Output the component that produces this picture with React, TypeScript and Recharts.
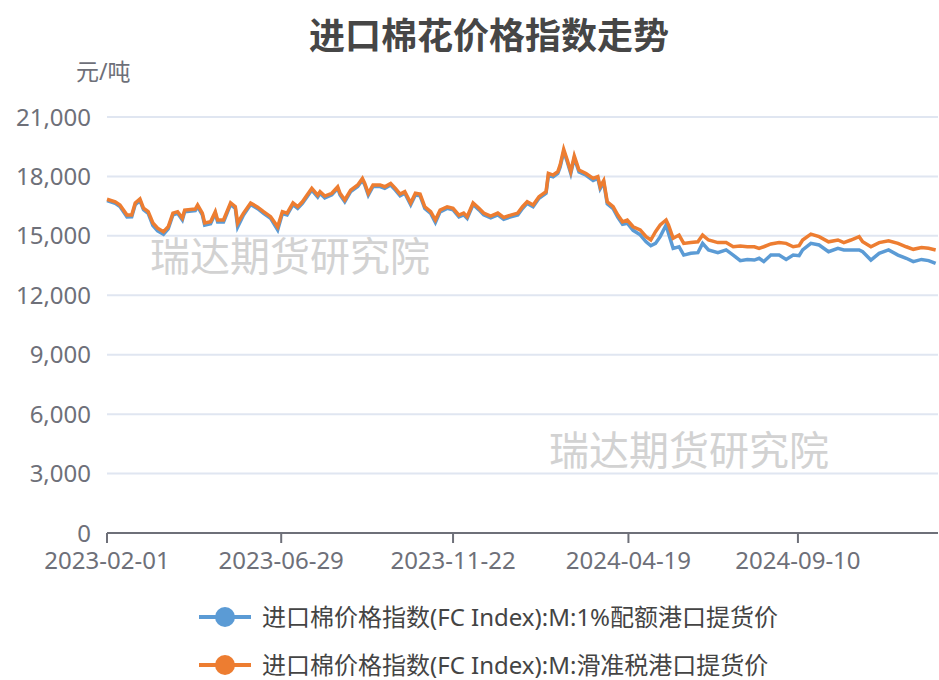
import { LineChart, Line, XAxis, YAxis, CartesianGrid } from "recharts";

// sample dates (roughly every 4-6 days)
const dates = [
  "2023-02-01", "2023-02-08", "2023-02-12", "2023-02-18", "2023-02-22", "2023-02-25", "2023-03-01", "2023-03-04",
  "2023-03-08", "2023-03-12", "2023-03-16", "2023-03-21", "2023-03-25", "2023-03-29", "2023-04-02", "2023-04-06",
  "2023-04-08", "2023-04-17", "2023-04-19", "2023-04-23", "2023-04-25", "2023-04-30", "2023-05-04", "2023-05-06",
  "2023-05-11", "2023-05-17", "2023-05-21", "2023-05-23", "2023-05-28", "2023-06-03", "2023-06-09", "2023-06-14",
  "2023-06-20", "2023-06-26", "2023-06-30", "2023-07-04", "2023-07-09", "2023-07-13", "2023-07-17", "2023-07-21",
  "2023-07-25", "2023-07-30", "2023-08-01", "2023-08-05", "2023-08-11", "2023-08-16", "2023-08-18", "2023-08-22",
  "2023-08-27", "2023-09-02", "2023-09-06", "2023-09-08", "2023-09-11", "2023-09-15", "2023-09-21", "2023-09-25",
  "2023-09-30", "2023-10-04", "2023-10-08", "2023-10-12", "2023-10-17", "2023-10-21", "2023-10-25", "2023-10-29",
  "2023-11-03", "2023-11-07", "2023-11-11", "2023-11-17", "2023-11-22", "2023-11-27", "2023-12-01", "2023-12-04",
  "2023-12-09", "2023-12-14", "2023-12-18", "2023-12-24", "2023-12-30", "2024-01-04", "2024-01-10", "2024-01-16",
  "2024-01-20", "2024-01-24", "2024-01-29", "2024-02-03", "2024-02-09", "2024-02-11", "2024-02-15", "2024-02-19",
  "2024-02-21", "2024-02-24", "2024-02-27", "2024-03-01", "2024-03-04", "2024-03-08", "2024-03-14", "2024-03-20",
  "2024-03-24", "2024-03-26", "2024-03-29", "2024-04-01", "2024-04-06", "2024-04-10", "2024-04-14", "2024-04-18",
  "2024-04-23", "2024-04-29", "2024-05-04", "2024-05-08", "2024-05-12", "2024-05-16", "2024-05-21", "2024-05-23",
  "2024-05-27", "2024-06-01", "2024-06-05", "2024-06-11", "2024-06-17", "2024-06-21", "2024-06-26", "2024-07-04",
  "2024-07-11", "2024-07-17", "2024-07-23", "2024-07-29", "2024-08-04", "2024-08-08", "2024-08-12", "2024-08-18",
  "2024-08-25", "2024-08-31", "2024-09-06", "2024-09-11", "2024-09-14", "2024-09-21", "2024-09-28", "2024-10-06",
  "2024-10-14", "2024-10-19", "2024-10-25", "2024-11-01", "2024-11-04", "2024-11-11", "2024-11-18", "2024-11-26",
  "2024-12-04", "2024-12-11", "2024-12-17", "2024-12-24", "2024-12-30", "2025-01-05",
];

// 1%配额港口提货价
const quotaPrice = [
  16780, 16640, 16480, 15950, 15960, 16580, 16780, 16320, 16130, 15520, 15250, 15080, 15350, 16060, 16140, 15800,
  16220, 16270, 16480, 16060, 15540, 15610, 16140, 15700, 15700, 16590, 16390, 15450, 16050, 16580, 16370, 16140,
  15880, 15300, 16130, 16060, 16580, 16390, 16640, 16980, 17310, 16960, 17150, 16920, 17070, 17400, 17060, 16720,
  17230, 17490, 17820, 17570, 17050, 17490, 17490, 17400, 17570, 17310, 17020, 17150, 16570, 17060, 17020, 16380,
  16130, 15680, 16210, 16390, 16310, 15960, 16060, 15880, 16580, 16310, 16060, 15910, 16060, 15840, 15960, 16060,
  16380, 16640, 16470, 16900, 17150, 18050, 17980, 18150, 18480, 19250, 18740, 18150, 18930, 18230, 18060, 17800,
  17900, 17380, 17700, 16620, 16370, 15940, 15580, 15640, 15280, 15050, 14700, 14500, 14620, 14960, 15550, 15130,
  14370, 14450, 14030, 14120, 14150, 14620, 14290, 14150, 14290, 14030, 13750, 13810, 13780, 13870, 13700, 14030,
  14030, 13810, 14030, 14000, 14290, 14620, 14540, 14200, 14370, 14290, 14290, 14290, 14200, 13780, 14120, 14290,
  14030, 13870, 13700, 13810, 13750, 13610,
];

// 滑准税港口提货价
const slidingPrice = [
  16850, 16720, 16560, 16050, 16050, 16660, 16860, 16400, 16220, 15650, 15390, 15210, 15460, 16150, 16220, 15900,
  16300, 16350, 16560, 16150, 15650, 15710, 16220, 15800, 15800, 16670, 16470, 15650, 16150, 16660, 16450, 16220,
  15970, 15460, 16220, 16150, 16660, 16470, 16720, 17060, 17400, 17060, 17230, 17010, 17150, 17480, 17150, 16810,
  17310, 17570, 17900, 17650, 17150, 17570, 17570, 17480, 17650, 17400, 17110, 17230, 16660, 17150, 17110, 16470,
  16220, 15800, 16300, 16470, 16390, 16050, 16150, 15970, 16660, 16390, 16150, 16000, 16150, 15930, 16050, 16150,
  16470, 16720, 16560, 16980, 17230, 18150, 18070, 18240, 18580, 19370, 18830, 18240, 19030, 18320, 18150, 17900,
  17990, 17480, 17790, 16720, 16470, 16050, 15710, 15800, 15460, 15300, 14960, 14790, 15210, 15550, 15800, 15550,
  14880, 15040, 14620, 14660, 14700, 15040, 14790, 14660, 14660, 14450, 14490, 14450, 14450, 14370, 14450, 14590,
  14660, 14620, 14450, 14500, 14790, 15090, 14960, 14700, 14790, 14660, 14790, 14960, 14700, 14450, 14660, 14750,
  14620, 14450, 14320, 14410, 14370, 14290,
];

const xTickLabels = ["2023-02-01", "2023-06-29", "2023-11-22", "2024-04-19", "2024-09-10"];
const xDomainEnd = "2025-01-07";
const yTickValues = [0, 3000, 6000, 9000, 12000, 15000, 18000, 21000];

const FONT = '"Noto Sans", "Noto Sans CJK SC", sans-serif';
const BLUE = "#5B9BD5";
const ORANGE = "#ED7D31";
const AXIS = "#6E7079";

const rows = dates.map((d, i) => ({ t: Date.parse(d), quota: quotaPrice[i], sliding: slidingPrice[i] }));
const xTicks = xTickLabels.map((d) => Date.parse(d));
const labelOf = new Map(xTicks.map((t, i) => [t, xTickLabels[i]]));

const legendItems = [
  { name: "进口棉价格指数(FC Index):M:1%配额港口提货价", color: BLUE },
  { name: "进口棉价格指数(FC Index):M:滑准税港口提货价", color: ORANGE },
];

const fmt = (v: number) => String(v).replace(/\B(?=(\d{3})+(?!\d))/g, ",");

function Watermark({ left, top }: { left: number; top: number }) {
  return (
    <div style={{ position: "absolute", left, top, fontSize: 40, lineHeight: "40px", color: "#d2d2d2", whiteSpace: "nowrap" }}>
      瑞达期货研究院
    </div>
  );
}

export default function App() {
  return (
    <div style={{ position: "absolute", left: 0, top: 0, width: 939, height: 680, background: "#fff", fontFamily: FONT, overflow: "hidden" }}>
      <Watermark left={150} top={236} />
      <Watermark left={549} top={430} />
      <div style={{ position: "absolute", left: 0, width: 978, top: 14, textAlign: "center", fontSize: 36, lineHeight: "44px", fontWeight: 700, color: "#464646" }}>
        进口棉花价格指数走势
      </div>
      <div style={{ position: "absolute", left: 76, top: 56, fontSize: 23, lineHeight: "30px", color: AXIS }}>元/吨</div>
      <div style={{ position: "absolute", left: 0, top: 0 }}>
        <LineChart width={939} height={680} data={rows} margin={{ top: 117, right: 1, bottom: 0, left: 0 }}>
          <CartesianGrid vertical={false} stroke="#E0E6F1" strokeWidth={2} />
          <XAxis
            dataKey="t"
            type="number"
            scale="linear"
            domain={[Date.parse(dates[0]), Date.parse(xDomainEnd)]}
            ticks={xTicks}
            tickFormatter={(t: number) => labelOf.get(t) ?? ""}
            height={147}
            axisLine={{ stroke: AXIS, strokeWidth: 2 }}
            tickLine={{ stroke: AXIS, strokeWidth: 2 }}
            tickSize={10}
            tickMargin={9}
            tick={{ fill: AXIS, fontSize: 24, fontFamily: FONT }}
            interval={0}
          />
          <YAxis
            domain={[0, 21000]}
            ticks={yTickValues}
            tickFormatter={fmt}
            width={107}
            axisLine={false}
            tickLine={false}
            tickSize={6}
            tickMargin={10}
            tick={{ fill: AXIS, fontSize: 24, fontFamily: FONT }}
            interval={0}
          />
          <Line dataKey="quota" type="linear" stroke={BLUE} strokeWidth={3.5} dot={false} isAnimationActive={false} />
          <Line dataKey="sliding" type="linear" stroke={ORANGE} strokeWidth={3.5} dot={false} isAnimationActive={false} />
        </LineChart>
      </div>
      {legendItems.map((it, i) => (
        <div key={it.name} style={{ position: "absolute", left: 198, top: 603 + i * 48, height: 28, display: "flex", alignItems: "center" }}>
          <svg width={54} height={24} style={{ marginRight: 10 }}>
            <line x1={1} y1={12} x2={53} y2={12} stroke={it.color} strokeWidth={4} />
            <circle cx={27} cy={12} r={10} fill={it.color} />
          </svg>
          <span style={{ fontSize: 24, lineHeight: "28px", color: "#444", whiteSpace: "nowrap" }}>{it.name}</span>
        </div>
      ))}
    </div>
  );
}
